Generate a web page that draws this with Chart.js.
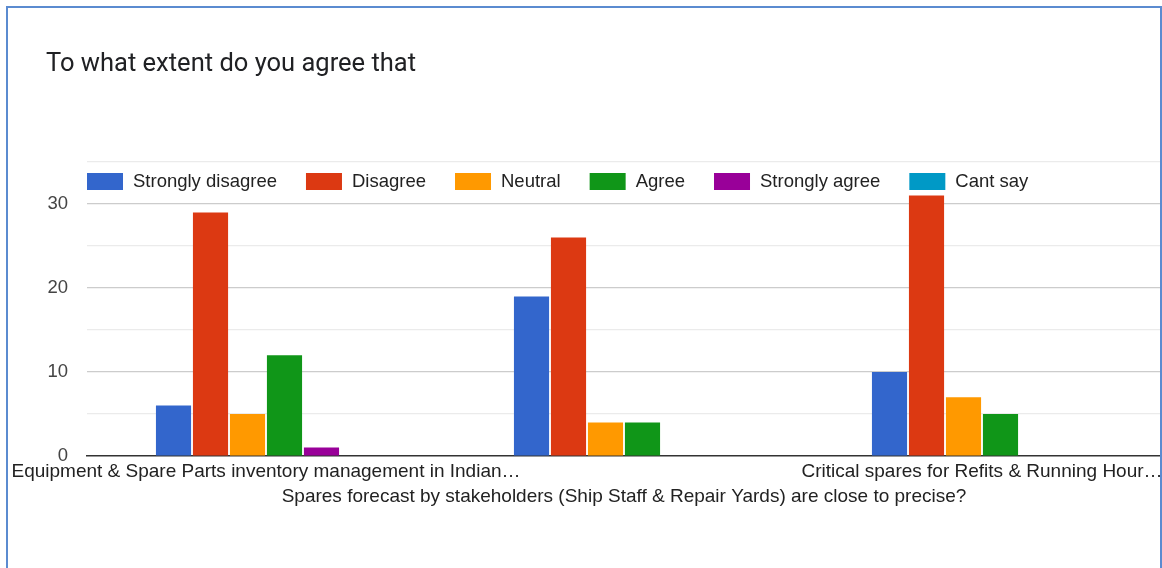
<!DOCTYPE html>
<html>
<head>
<meta charset="utf-8">
<script src="https://cdn.jsdelivr.net/npm/chart.js@4.4.1/dist/chart.umd.min.js"></script>
<style>
  html, body { margin: 0; padding: 0; background: #fff; }
  #wrap { position: relative; width: 1162px; height: 568px; overflow: hidden; }
  #frame { position: absolute; left: 6px; top: 6px; width: 1156px; height: 600px; border: 2px solid #5b8bd0; box-sizing: border-box; pointer-events: none; }
  canvas { position: absolute; left: 0; top: 0; }
</style>
</head>
<body>
<div id="wrap">
  <canvas id="c" width="1162" height="568"></canvas>
  <div id="frame"></div>
</div>
<script>
const titleText = "To what extent do you agree that";
const categories = [
  "Equipment & Spare Parts inventory management in Indian\u2026",
  ["", "Spares forecast by stakeholders (Ship Staff & Repair Yards) are close to precise?"],
  "Critical spares for Refits & Running Hour\u2026"
];
const seriesNames = ["Strongly disagree", "Disagree", "Neutral", "Agree", "Strongly agree", "Cant say"];
const seriesColors = ["#3366cc", "#dc3912", "#ff9900", "#109618", "#990099", "#0099c6"];
const stronglyDisagree = [6, 19, 10];
const disagree = [29, 26, 31];
const neutral = [5, 4, 7];
const agree = [12, 4, 5];
const stronglyAgree = [1, 0, 0];
const cantSay = [0, 0, 0];
const yTickLabels = [0, 10, 20, 30];

const seriesValues = [stronglyDisagree, disagree, neutral, agree, stronglyAgree, cantSay];
const FONT = "'Liberation Sans', Arial, sans-serif";

const titleLegendPlugin = {
  id: 'titleLegend',
  afterDraw(chart) {
    const ctx = chart.ctx;
    const ca = chart.chartArea;
    ctx.save();
    ctx.fillStyle = '#202124';
    ctx.font = "400 25.5px Roboto, sans-serif";
    ctx.textBaseline = 'alphabetic';
    ctx.textAlign = 'left';
    ctx.fillText(titleText, 46, 71);
    ctx.font = "18.5px " + FONT;
    ctx.textBaseline = 'middle';
    let x = ca.left;
    const y = ca.top + 11;
    chart.data.datasets.forEach(ds => {
      ctx.fillStyle = ds.backgroundColor;
      ctx.fillRect(x, y, 36, 17);
      ctx.fillStyle = '#222';
      ctx.fillText(ds.label, x + 46, y + 9);
      x += 46 + ctx.measureText(ds.label).width + 29;
    });
    ctx.restore();
  }
};

new Chart(document.getElementById('c'), {
  type: 'bar',
  data: {
    labels: categories,
    datasets: seriesNames.map((n, i) => ({
      label: n,
      data: seriesValues[i],
      backgroundColor: seriesColors[i],
      borderWidth: 0,
      categoryPercentage: 0.62,
      barPercentage: 0.95
    }))
  },
  options: {
    responsive: false,
    animation: false,
    events: [],
    layout: { padding: { top: 162, left: 46, right: 1, bottom: 0 } },
    plugins: { legend: { display: false }, title: { display: false }, tooltip: { enabled: false } },
    scales: {
      x: {
        grid: { display: false, drawTicks: false },
        border: { display: true, color: '#333', width: 1.5 },
        ticks: {
          autoSkip: false, maxRotation: 0, minRotation: 0, padding: 3,
          color: '#222',
          font: { family: FONT, size: 19, lineHeight: 1.32 }
        },
        afterFit: s => { s.height = 112; s.paddingLeft = 0; s.paddingRight = 0; }
      },
      y: {
        min: 0, max: 35,
        border: { display: false },
        grid: {
          drawTicks: false,
          color: c => (c.tick && c.tick.value === 0) ? 'rgba(0,0,0,0)' : (c.tick && c.tick.value % 10 === 0 ? '#cccccc' : '#ebebeb'),
          lineWidth: 1.2
        },
        ticks: {
          stepSize: 5, padding: 19, color: '#444',
          font: { family: FONT, size: 18.5 },
          callback: v => yTickLabels.includes(v) ? String(v) : ''
        },
        afterFit: s => { s.width = 41; }
      }
    }
  },
  plugins: [titleLegendPlugin]
});
</script>
</body>
</html>
